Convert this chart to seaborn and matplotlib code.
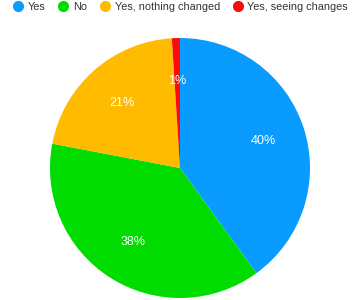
import matplotlib
matplotlib.use("Agg")
import matplotlib.pyplot as plt
from matplotlib.lines import Line2D
import seaborn as sns

categories = ["Yes", "No", "Yes, nothing changed", "Yes, seeing changes"]
values = [40, 38, 21, 1]
colors = ["#0A9BFF", "#00DC00", "#FFBB00", "#FF0A0A"]

sns.set_theme(style="white")
plt.rcParams["font.family"] = ["Liberation Sans", "DejaVu Sans"]

fig = plt.figure(figsize=(3.6, 3.0), dpi=100)
ax = fig.add_axes([50 / 360, 2 / 300, 260 / 360, 260 / 300])

wedges, texts, autotexts = ax.pie(
    values,
    colors=colors,
    startangle=90,
    counterclock=False,
    autopct=lambda p: f"{p:.0f}%",
    pctdistance=0.67,
    wedgeprops=dict(linewidth=0),
    textprops=dict(color="white", fontsize=9),
)
ax.set_xlim(-1, 1)
ax.set_ylim(-1, 1)
ax.set_aspect("equal")
ax.axis("off")

handles = [
    Line2D([0], [0], marker="o", linestyle="", markersize=7,
           markerfacecolor=c, markeredgecolor=c)
    for c in colors
]
fig.legend(
    handles, categories, loc="upper center", bbox_to_anchor=(0.5, 1.025),
    ncol=4, frameon=False, fontsize=7.8, handletextpad=0.35,
    columnspacing=1.1, handlelength=1.1, labelcolor="#333333",
)

fig.savefig("out.png", dpi=100)
